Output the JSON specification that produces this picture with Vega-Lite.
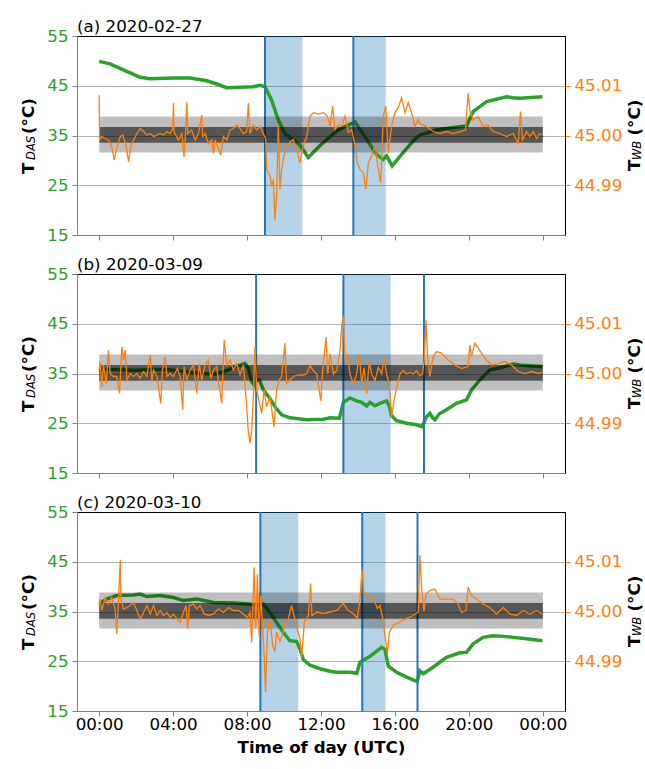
{
  "$schema": "https://vega.github.io/schema/vega-lite/v6.json",
  "padding": {"left": 20, "top": 18, "right": 0, "bottom": 0},
  "spacing": 11,
  "config": {
    "view": {"stroke": "#000000", "strokeWidth": 1},
    "font": "DejaVu Sans",
    "axis": {"labelFont": "DejaVu Sans", "labelFontSize": 16.7, "titleFont": "DejaVu Sans", "titleFontSize": 16.7, "titleFontWeight": "bold", "titleColor": "#000000", "labelFlush": false, "labelOverlap": false, "tickSize": 5, "labelPadding": 4},
    "title": {"font": "DejaVu Sans", "fontSize": 16.7, "fontWeight": "normal", "anchor": "start", "frame": "group", "offset": -8, "color": "#000000"}
  },
  "datasets": {
    "bands": [
      {"from": 0, "to": 24, "lo": 44.9966, "hi": 45.0038, "band": "outer"},
      {"from": 0, "to": 24, "lo": 44.99855, "hi": 45.0017, "band": "inner"}
    ],
    "a_s": [{"start": 8.97, "end": 10.99}, {"start": 13.75, "end": 15.5}],
    "a_e": [{"h": 8.97}, {"h": 13.75}],
    "b_s": [{"start": 13.21, "end": 15.77}],
    "b_e": [{"h": 8.49}, {"h": 13.21}, {"h": 17.57}],
    "c_s": [{"start": 8.72, "end": 10.77}, {"start": 14.23, "end": 15.48}],
    "c_e": [{"h": 8.72}, {"h": 14.23}, {"h": 17.22}],
    "a_g": [
      {"h": 0, "t": 49.9}, {"h": 0.59, "t": 49.4}, {"h": 1.31, "t": 48.2}, {"h": 2.22, "t": 46.7}, {"h": 2.76, "t": 46.4},
      {"h": 4.02, "t": 46.55}, {"h": 4.92, "t": 46.55}, {"h": 5.82, "t": 46.0}, {"h": 6.36, "t": 45.35}, {"h": 6.9, "t": 44.6},
      {"h": 7.62, "t": 44.7}, {"h": 8.34, "t": 44.8}, {"h": 8.7, "t": 45.1}, {"h": 8.97, "t": 44.8}, {"h": 9.33, "t": 42.1},
      {"h": 9.69, "t": 38.1}, {"h": 10.05, "t": 35.4}, {"h": 10.5, "t": 34.1}, {"h": 10.86, "t": 33.1}, {"h": 11.31, "t": 30.6},
      {"h": 11.95, "t": 33.0}, {"h": 12.13, "t": 33.6}, {"h": 12.85, "t": 35.9}, {"h": 13.3, "t": 36.8}, {"h": 13.84, "t": 37.7},
      {"h": 14.47, "t": 34.2}, {"h": 15.01, "t": 31.2}, {"h": 15.37, "t": 30.2}, {"h": 15.55, "t": 30.9}, {"h": 15.85, "t": 28.9},
      {"h": 16.45, "t": 31.6}, {"h": 16.99, "t": 33.9}, {"h": 17.35, "t": 35.1}, {"h": 18.25, "t": 36.1}, {"h": 19.15, "t": 36.6},
      {"h": 19.87, "t": 36.9}, {"h": 20.23, "t": 39.8}, {"h": 20.96, "t": 41.8}, {"h": 22.04, "t": 42.8}, {"h": 22.4, "t": 42.6},
      {"h": 22.76, "t": 42.5}, {"h": 23.98, "t": 42.8}
    ],
    "a_o": [
      {"h": 0, "t": 45.0081}, {"h": 0.02, "t": 44.9991}, {"h": 0.14, "t": 44.9998}, {"h": 0.32, "t": 44.9994}, {"h": 0.5, "t": 44.9991},
      {"h": 0.68, "t": 44.9978}, {"h": 0.81, "t": 44.9951}, {"h": 0.95, "t": 44.9974}, {"h": 1.14, "t": 44.9998}, {"h": 1.28, "t": 45.0001},
      {"h": 1.46, "t": 44.9978}, {"h": 1.59, "t": 44.9947}, {"h": 1.71, "t": 44.9978}, {"h": 1.86, "t": 44.9991}, {"h": 2.04, "t": 45.0004},
      {"h": 2.22, "t": 45.0014}, {"h": 2.4, "t": 45.0008}, {"h": 2.58, "t": 45.0001}, {"h": 2.76, "t": 45.0004}, {"h": 2.94, "t": 44.9998},
      {"h": 3.12, "t": 45.0001}, {"h": 3.3, "t": 45.0004}, {"h": 3.48, "t": 45.0001}, {"h": 3.66, "t": 45.0008}, {"h": 3.84, "t": 45.0004},
      {"h": 3.98, "t": 45.0014}, {"h": 4.02, "t": 45.0065}, {"h": 4.05, "t": 45.0008}, {"h": 4.29, "t": 44.9991}, {"h": 4.47, "t": 45.0004},
      {"h": 4.59, "t": 44.9957}, {"h": 4.67, "t": 45.0004}, {"h": 4.74, "t": 45.0068}, {"h": 4.79, "t": 45.0004}, {"h": 5.01, "t": 45.0011},
      {"h": 5.19, "t": 44.9991}, {"h": 5.37, "t": 45.0004}, {"h": 5.55, "t": 45.0041}, {"h": 5.6, "t": 44.9998}, {"h": 5.73, "t": 45.0004},
      {"h": 5.91, "t": 44.9984}, {"h": 6.09, "t": 44.9991}, {"h": 6.18, "t": 44.9964}, {"h": 6.27, "t": 44.9991}, {"h": 6.45, "t": 44.9974},
      {"h": 6.58, "t": 44.9961}, {"h": 6.72, "t": 44.9998}, {"h": 6.9, "t": 44.9991}, {"h": 7.08, "t": 45.0011}, {"h": 7.26, "t": 45.0014},
      {"h": 7.44, "t": 45.0021}, {"h": 7.62, "t": 45.0014}, {"h": 7.8, "t": 45.0004}, {"h": 7.98, "t": 45.0008}, {"h": 8.07, "t": 45.0065},
      {"h": 8.16, "t": 45.0004}, {"h": 8.34, "t": 45.0021}, {"h": 8.52, "t": 45.0011}, {"h": 8.7, "t": 45.0018}, {"h": 8.88, "t": 45.0004},
      {"h": 9.0, "t": 44.9994}, {"h": 9.06, "t": 44.9932}, {"h": 9.24, "t": 44.9919}, {"h": 9.33, "t": 44.9898}, {"h": 9.42, "t": 44.9912},
      {"h": 9.51, "t": 44.9831}, {"h": 9.6, "t": 44.9878}, {"h": 9.69, "t": 45.0019}, {"h": 9.78, "t": 44.9892}, {"h": 9.87, "t": 44.9932},
      {"h": 9.96, "t": 44.9952}, {"h": 10.14, "t": 44.9979}, {"h": 10.32, "t": 44.9986}, {"h": 10.5, "t": 44.9992}, {"h": 10.68, "t": 44.9972},
      {"h": 10.86, "t": 44.9945}, {"h": 11.04, "t": 44.9979}, {"h": 11.23, "t": 44.9999}, {"h": 11.41, "t": 45.0039}, {"h": 11.59, "t": 45.0046},
      {"h": 11.86, "t": 45.0043}, {"h": 12.13, "t": 45.0046}, {"h": 12.34, "t": 45.0039}, {"h": 12.49, "t": 45.0019}, {"h": 12.63, "t": 45.0059},
      {"h": 12.76, "t": 45.0012}, {"h": 12.94, "t": 45.0022}, {"h": 13.12, "t": 45.0019}, {"h": 13.3, "t": 45.0039}, {"h": 13.48, "t": 45.0006},
      {"h": 13.66, "t": 45.0012}, {"h": 13.84, "t": 44.9979}, {"h": 13.96, "t": 44.9945}, {"h": 14.11, "t": 44.9932}, {"h": 14.29, "t": 44.9925},
      {"h": 14.43, "t": 44.9892}, {"h": 14.56, "t": 44.9945}, {"h": 14.74, "t": 44.9959}, {"h": 14.92, "t": 44.9979}, {"h": 15.1, "t": 44.9932},
      {"h": 15.23, "t": 44.9905}, {"h": 15.37, "t": 45.0039}, {"h": 15.5, "t": 45.0059}, {"h": 15.64, "t": 44.9965}, {"h": 15.82, "t": 45.0019},
      {"h": 16.0, "t": 45.0046}, {"h": 16.18, "t": 45.0056}, {"h": 16.36, "t": 45.0076}, {"h": 16.54, "t": 45.0046}, {"h": 16.72, "t": 45.0066},
      {"h": 16.9, "t": 45.0046}, {"h": 17.08, "t": 45.0019}, {"h": 17.26, "t": 45.0032}, {"h": 17.35, "t": 45.0024}, {"h": 17.71, "t": 45.0018},
      {"h": 18.07, "t": 45.0008}, {"h": 18.43, "t": 45.0004}, {"h": 18.79, "t": 45.0008}, {"h": 19.15, "t": 45.0004}, {"h": 19.51, "t": 45.0008},
      {"h": 19.82, "t": 45.0011}, {"h": 19.96, "t": 45.0085}, {"h": 20.05, "t": 45.0051}, {"h": 20.23, "t": 45.0031}, {"h": 20.5, "t": 45.0038},
      {"h": 20.77, "t": 45.0018}, {"h": 21.04, "t": 45.0021}, {"h": 21.31, "t": 45.0008}, {"h": 21.68, "t": 45.0004}, {"h": 22.04, "t": 44.9998},
      {"h": 22.4, "t": 45.0004}, {"h": 22.67, "t": 44.9984}, {"h": 22.79, "t": 45.0048}, {"h": 22.9, "t": 44.9991}, {"h": 23.12, "t": 45.0008},
      {"h": 23.3, "t": 44.9998}, {"h": 23.48, "t": 45.0008}, {"h": 23.66, "t": 44.9994}, {"h": 23.84, "t": 45.0004}, {"h": 23.98, "t": 45.0001}
    ],
    "b_g": [
      {"h": 0, "t": 35.8}, {"h": 0.95, "t": 35.8}, {"h": 1.86, "t": 35.6}, {"h": 2.76, "t": 35.8}, {"h": 3.66, "t": 35.8},
      {"h": 4.56, "t": 35.4}, {"h": 5.46, "t": 35.0}, {"h": 6.36, "t": 34.9}, {"h": 6.9, "t": 35.6}, {"h": 7.44, "t": 36.5},
      {"h": 7.89, "t": 37.0}, {"h": 8.07, "t": 36.0}, {"h": 8.25, "t": 33.4}, {"h": 8.38, "t": 32.7}, {"h": 8.52, "t": 33.7},
      {"h": 8.67, "t": 33.7}, {"h": 8.88, "t": 31.7}, {"h": 9.24, "t": 30.0}, {"h": 9.51, "t": 28.3}, {"h": 9.87, "t": 26.7},
      {"h": 10.32, "t": 26.1}, {"h": 11.23, "t": 25.7}, {"h": 12.13, "t": 25.8}, {"h": 12.49, "t": 26.1}, {"h": 13.0, "t": 26.0},
      {"h": 13.21, "t": 29.2}, {"h": 13.57, "t": 30.1}, {"h": 13.93, "t": 29.5}, {"h": 14.2, "t": 29.2}, {"h": 14.47, "t": 28.5},
      {"h": 14.65, "t": 29.2}, {"h": 14.92, "t": 28.5}, {"h": 15.19, "t": 29.0}, {"h": 15.55, "t": 29.5}, {"h": 15.69, "t": 28.5},
      {"h": 15.82, "t": 26.5}, {"h": 16.09, "t": 25.5}, {"h": 16.63, "t": 25.0}, {"h": 17.16, "t": 24.7}, {"h": 17.49, "t": 24.3},
      {"h": 17.68, "t": 26.2}, {"h": 17.89, "t": 27.0}, {"h": 18.04, "t": 26.1}, {"h": 18.16, "t": 25.7}, {"h": 18.4, "t": 26.9},
      {"h": 18.79, "t": 27.7}, {"h": 19.33, "t": 29.0}, {"h": 19.87, "t": 29.7}, {"h": 20.14, "t": 31.7}, {"h": 20.59, "t": 33.7},
      {"h": 21.13, "t": 35.7}, {"h": 21.76, "t": 36.2}, {"h": 22.4, "t": 36.9}, {"h": 22.76, "t": 36.7}, {"h": 23.48, "t": 36.5},
      {"h": 23.98, "t": 36.4}
    ],
    "b_o": [
      {"h": 0, "t": 45.0007}, {"h": 0.05, "t": 45.0024}, {"h": 0.14, "t": 44.9974}, {"h": 0.23, "t": 45.0017}, {"h": 0.38, "t": 44.998},
      {"h": 0.5, "t": 45.0047}, {"h": 0.59, "t": 45.0}, {"h": 0.77, "t": 44.9994}, {"h": 0.95, "t": 44.9994}, {"h": 1.1, "t": 44.996},
      {"h": 1.23, "t": 45.0054}, {"h": 1.32, "t": 45.0027}, {"h": 1.41, "t": 45.0047}, {"h": 1.5, "t": 44.9987}, {"h": 1.68, "t": 45.0},
      {"h": 1.86, "t": 44.9994}, {"h": 2.04, "t": 45.0}, {"h": 2.22, "t": 44.999}, {"h": 2.4, "t": 45.0004}, {"h": 2.58, "t": 44.9994},
      {"h": 2.76, "t": 45.0037}, {"h": 2.85, "t": 44.9984}, {"h": 2.94, "t": 45.0007}, {"h": 3.12, "t": 44.9994}, {"h": 3.33, "t": 44.994},
      {"h": 3.42, "t": 45.0007}, {"h": 3.57, "t": 45.0034}, {"h": 3.66, "t": 44.9994}, {"h": 3.84, "t": 45.0}, {"h": 4.02, "t": 44.9994},
      {"h": 4.23, "t": 45.001}, {"h": 4.38, "t": 44.9994}, {"h": 4.52, "t": 44.9927}, {"h": 4.59, "t": 45.0014}, {"h": 4.74, "t": 44.9987},
      {"h": 4.92, "t": 45.0007}, {"h": 5.1, "t": 45.0017}, {"h": 5.28, "t": 44.996}, {"h": 5.41, "t": 45.002}, {"h": 5.55, "t": 44.9987},
      {"h": 5.73, "t": 45.0017}, {"h": 5.91, "t": 45.0027}, {"h": 6.04, "t": 44.999}, {"h": 6.18, "t": 45.0007}, {"h": 6.36, "t": 45.0014},
      {"h": 6.45, "t": 44.9984}, {"h": 6.63, "t": 44.994}, {"h": 6.76, "t": 45.0067}, {"h": 6.9, "t": 45.0017}, {"h": 7.08, "t": 45.0027},
      {"h": 7.26, "t": 45.0007}, {"h": 7.44, "t": 45.002}, {"h": 7.62, "t": 44.9997}, {"h": 7.8, "t": 45.0017}, {"h": 7.94, "t": 44.9953},
      {"h": 8.07, "t": 44.9883}, {"h": 8.16, "t": 44.986}, {"h": 8.25, "t": 44.9886}, {"h": 8.34, "t": 44.9953}, {"h": 8.43, "t": 45.0054},
      {"h": 8.52, "t": 44.9967}, {"h": 8.67, "t": 44.994}, {"h": 8.79, "t": 44.992}, {"h": 8.92, "t": 44.9967}, {"h": 9.06, "t": 44.9933},
      {"h": 9.24, "t": 44.9953}, {"h": 9.46, "t": 44.9893}, {"h": 9.6, "t": 44.9967}, {"h": 9.75, "t": 44.9987}, {"h": 9.87, "t": 44.9994},
      {"h": 10.05, "t": 45.0061}, {"h": 10.14, "t": 44.998}, {"h": 10.32, "t": 44.9987}, {"h": 10.5, "t": 44.9994}, {"h": 10.77, "t": 44.9997},
      {"h": 11.05, "t": 44.9997}, {"h": 11.23, "t": 45.0}, {"h": 11.41, "t": 45.0016}, {"h": 11.59, "t": 45.0005}, {"h": 11.77, "t": 44.9999},
      {"h": 11.99, "t": 44.9945}, {"h": 12.09, "t": 45.0006}, {"h": 12.27, "t": 45.0073}, {"h": 12.36, "t": 44.9999}, {"h": 12.49, "t": 45.0039},
      {"h": 12.67, "t": 44.9999}, {"h": 12.85, "t": 45.0006}, {"h": 13.03, "t": 45.0046}, {"h": 13.12, "t": 45.0096}, {"h": 13.21, "t": 45.0116},
      {"h": 13.3, "t": 45.0026}, {"h": 13.42, "t": 45.0039}, {"h": 13.57, "t": 44.9999}, {"h": 13.75, "t": 44.9979}, {"h": 13.93, "t": 44.9999},
      {"h": 14.07, "t": 45.0039}, {"h": 14.2, "t": 44.9979}, {"h": 14.33, "t": 45.0012}, {"h": 14.47, "t": 44.9959}, {"h": 14.61, "t": 45.0026},
      {"h": 14.74, "t": 44.9999}, {"h": 14.92, "t": 44.9986}, {"h": 15.1, "t": 45.0012}, {"h": 15.28, "t": 44.9999}, {"h": 15.41, "t": 45.0032},
      {"h": 15.55, "t": 44.9999}, {"h": 15.69, "t": 44.9979}, {"h": 15.82, "t": 44.9912}, {"h": 15.95, "t": 44.9945}, {"h": 16.09, "t": 44.9972},
      {"h": 16.27, "t": 44.9999}, {"h": 16.45, "t": 45.0006}, {"h": 16.63, "t": 44.9999}, {"h": 16.81, "t": 45.0002}, {"h": 16.99, "t": 44.9999},
      {"h": 17.16, "t": 45.0006}, {"h": 17.34, "t": 44.9996}, {"h": 17.49, "t": 44.9999}, {"h": 17.58, "t": 45.0026}, {"h": 17.68, "t": 45.0107},
      {"h": 17.77, "t": 45.0032}, {"h": 17.89, "t": 44.9994}, {"h": 18.07, "t": 45.0034}, {"h": 18.25, "t": 45.0044}, {"h": 18.52, "t": 45.0041},
      {"h": 18.88, "t": 45.0027}, {"h": 19.24, "t": 45.0017}, {"h": 19.6, "t": 45.001}, {"h": 19.96, "t": 45.0014}, {"h": 20.05, "t": 45.0057},
      {"h": 20.14, "t": 45.0034}, {"h": 20.32, "t": 45.0061}, {"h": 20.5, "t": 45.0051}, {"h": 20.68, "t": 45.0041}, {"h": 20.95, "t": 45.0027},
      {"h": 21.22, "t": 45.0017}, {"h": 21.58, "t": 45.002}, {"h": 21.94, "t": 45.0024}, {"h": 22.31, "t": 45.0017}, {"h": 22.67, "t": 45.0004},
      {"h": 23.03, "t": 45.0}, {"h": 23.39, "t": 45.0004}, {"h": 23.75, "t": 45.0}, {"h": 23.98, "t": 45.0002}
    ],
    "c_g": [
      {"h": 0, "t": 36.5}, {"h": 0.41, "t": 37.5}, {"h": 0.95, "t": 38.2}, {"h": 1.86, "t": 38.3}, {"h": 2.22, "t": 38.5},
      {"h": 2.58, "t": 38.0}, {"h": 3.3, "t": 38.2}, {"h": 4.02, "t": 37.8}, {"h": 4.56, "t": 37.2}, {"h": 5.28, "t": 37.5},
      {"h": 6.18, "t": 36.8}, {"h": 7.26, "t": 36.7}, {"h": 8.07, "t": 36.5}, {"h": 8.52, "t": 36.3}, {"h": 8.88, "t": 36.5},
      {"h": 9.24, "t": 34.8}, {"h": 9.6, "t": 32.8}, {"h": 9.96, "t": 30.8}, {"h": 10.32, "t": 29.1}, {"h": 10.68, "t": 29.0},
      {"h": 10.86, "t": 27.5}, {"h": 11.05, "t": 25.3}, {"h": 11.41, "t": 24.2}, {"h": 11.95, "t": 23.5}, {"h": 12.49, "t": 23.0},
      {"h": 12.85, "t": 22.8}, {"h": 13.57, "t": 22.8}, {"h": 13.94, "t": 22.6}, {"h": 14.11, "t": 24.8}, {"h": 14.65, "t": 26.0},
      {"h": 15.28, "t": 27.8}, {"h": 15.46, "t": 27.4}, {"h": 15.64, "t": 24.0}, {"h": 16.09, "t": 22.8}, {"h": 16.63, "t": 21.8},
      {"h": 17.2, "t": 20.9}, {"h": 17.35, "t": 23.1}, {"h": 17.53, "t": 22.5}, {"h": 17.98, "t": 23.6}, {"h": 18.43, "t": 24.8},
      {"h": 18.79, "t": 25.8}, {"h": 19.51, "t": 26.7}, {"h": 19.87, "t": 26.8}, {"h": 20.23, "t": 28.5}, {"h": 20.77, "t": 29.8},
      {"h": 21.31, "t": 30.1}, {"h": 21.86, "t": 30.0}, {"h": 22.4, "t": 29.8}, {"h": 23.12, "t": 29.5}, {"h": 23.98, "t": 29.1}
    ],
    "c_o": [
      {"h": 0, "t": 45.0012}, {"h": 0.05, "t": 45.0025}, {"h": 0.14, "t": 45.0002}, {"h": 0.32, "t": 45.0028}, {"h": 0.5, "t": 45.0015},
      {"h": 0.68, "t": 45.0028}, {"h": 0.86, "t": 45.0005}, {"h": 0.95, "t": 44.9955}, {"h": 1.05, "t": 45.0025}, {"h": 1.14, "t": 45.0104},
      {"h": 1.17, "t": 45.0025}, {"h": 1.32, "t": 45.0005}, {"h": 1.5, "t": 45.0008}, {"h": 1.68, "t": 45.0012}, {"h": 1.86, "t": 45.0018},
      {"h": 2.04, "t": 45.0002}, {"h": 2.22, "t": 44.9985}, {"h": 2.4, "t": 44.9998}, {"h": 2.58, "t": 45.0012}, {"h": 2.76, "t": 44.9995},
      {"h": 2.94, "t": 45.0012}, {"h": 3.12, "t": 44.9992}, {"h": 3.3, "t": 45.0002}, {"h": 3.48, "t": 44.9992}, {"h": 3.66, "t": 44.9998},
      {"h": 3.84, "t": 44.9988}, {"h": 4.02, "t": 44.9995}, {"h": 4.2, "t": 44.9985}, {"h": 4.38, "t": 44.9978}, {"h": 4.56, "t": 44.9998},
      {"h": 4.7, "t": 45.0012}, {"h": 4.79, "t": 44.9965}, {"h": 4.88, "t": 45.0012}, {"h": 5.1, "t": 45.0015}, {"h": 5.28, "t": 45.0005},
      {"h": 5.46, "t": 45.0012}, {"h": 5.68, "t": 44.9995}, {"h": 5.91, "t": 44.9992}, {"h": 6.18, "t": 44.9995}, {"h": 6.45, "t": 45.0005},
      {"h": 6.72, "t": 44.9998}, {"h": 6.99, "t": 45.0008}, {"h": 7.26, "t": 45.0002}, {"h": 7.53, "t": 45.0002}, {"h": 7.8, "t": 44.9995},
      {"h": 8.02, "t": 44.9988}, {"h": 8.16, "t": 44.9998}, {"h": 8.25, "t": 44.9938}, {"h": 8.38, "t": 45.0089}, {"h": 8.47, "t": 44.9965},
      {"h": 8.56, "t": 45.0075}, {"h": 8.65, "t": 44.9952}, {"h": 8.74, "t": 45.0032}, {"h": 8.83, "t": 44.9978}, {"h": 8.92, "t": 44.9915},
      {"h": 9.0, "t": 44.9838}, {"h": 9.1, "t": 44.9958}, {"h": 9.24, "t": 44.9985}, {"h": 9.39, "t": 44.9931}, {"h": 9.51, "t": 44.9919},
      {"h": 9.6, "t": 44.9959}, {"h": 9.78, "t": 44.994}, {"h": 9.96, "t": 44.9959}, {"h": 10.07, "t": 44.9982}, {"h": 10.23, "t": 44.9985},
      {"h": 10.41, "t": 45.0012}, {"h": 10.54, "t": 44.9992}, {"h": 10.68, "t": 44.9972}, {"h": 10.86, "t": 44.9945}, {"h": 10.95, "t": 44.9908},
      {"h": 11.1, "t": 44.9979}, {"h": 11.32, "t": 44.9992}, {"h": 11.44, "t": 45.0056}, {"h": 11.51, "t": 44.9992}, {"h": 11.77, "t": 44.9999},
      {"h": 12.13, "t": 44.9996}, {"h": 12.49, "t": 44.9999}, {"h": 12.85, "t": 45.0002}, {"h": 13.21, "t": 45.0016}, {"h": 13.48, "t": 45.0002},
      {"h": 13.75, "t": 44.9996}, {"h": 13.96, "t": 44.9986}, {"h": 14.11, "t": 45.0026}, {"h": 14.22, "t": 45.0084}, {"h": 14.32, "t": 45.0039},
      {"h": 14.56, "t": 45.0029}, {"h": 14.83, "t": 45.0026}, {"h": 15.05, "t": 45.0006}, {"h": 15.19, "t": 45.0012}, {"h": 15.34, "t": 44.9986},
      {"h": 15.46, "t": 44.9952}, {"h": 15.59, "t": 44.9915}, {"h": 15.7, "t": 44.9959}, {"h": 15.91, "t": 44.9972}, {"h": 16.27, "t": 44.9979},
      {"h": 16.63, "t": 44.9986}, {"h": 16.99, "t": 44.9992}, {"h": 17.26, "t": 44.9999}, {"h": 17.35, "t": 45.0113}, {"h": 17.44, "t": 45.0049},
      {"h": 17.57, "t": 45.0}, {"h": 17.68, "t": 45.0035}, {"h": 17.89, "t": 45.0042}, {"h": 18.16, "t": 45.0045}, {"h": 18.43, "t": 45.0025},
      {"h": 18.79, "t": 45.0025}, {"h": 19.15, "t": 45.0025}, {"h": 19.42, "t": 45.0015}, {"h": 19.6, "t": 44.9998}, {"h": 19.84, "t": 45.0002},
      {"h": 19.96, "t": 45.0049}, {"h": 20.14, "t": 45.0032}, {"h": 20.41, "t": 45.0025}, {"h": 20.77, "t": 45.0015}, {"h": 21.13, "t": 45.0008},
      {"h": 21.49, "t": 44.9995}, {"h": 21.86, "t": 45.0008}, {"h": 22.22, "t": 44.9995}, {"h": 22.58, "t": 44.9992}, {"h": 22.94, "t": 45.0002},
      {"h": 23.3, "t": 44.9995}, {"h": 23.66, "t": 45.0002}, {"h": 23.98, "t": 44.9995}
    ]
  },
  "vconcat": [
    {
      "title": {"text": "(a) 2020-02-27"},
      "width": 488, "height": 199,
      "resolve": {"scale": {"y": "independent"}},
      "layer": [
        {
          "layer": [
            {"data": {"name": "a_s"}, "mark": {"type": "rect", "color": "#1f77b4", "opacity": 0.33},
             "encoding": {"x": {"field": "start", "type": "quantitative", "scale": {"domain": [-1.2, 25.2], "nice": false, "zero": false},
               "axis": {"values": [0, 4, 8, 12, 16, 20, 24], "labels": false, "title": null, "grid": false, "tickColor": "#808080", "domainColor": "#808080"}},
               "x2": {"field": "end"}}},
            {"data": {"name": "a_g"}, "mark": {"type": "line", "color": "#2ca02c", "strokeWidth": 3.5},
             "encoding": {"x": {"field": "h", "type": "quantitative"},
               "y": {"field": "t", "type": "quantitative", "scale": {"domain": [15, 55], "nice": false, "zero": false},
                 "axis": {"orient": "left", "values": [15, 25, 35, 45, 55], "title": null, "grid": false, "labelColor": "#2ca02c", "tickColor": "#808080", "domainColor": "#808080"}}}},
            {"data": {"name": "a_e"}, "mark": {"type": "rule", "color": "#1f77b4", "strokeWidth": 2}, "encoding": {"x": {"field": "h", "type": "quantitative"}}},
            {"data": {"values": [{}]}, "mark": {"type": "text", "text": "T", "angle": 270, "fontSize": 16.7, "fontWeight": "bold", "align": "center", "baseline": "middle", "color": "#000000"},
             "encoding": {"x": {"datum": -3.81}, "y": {"datum": 28.4}}},
            {"data": {"values": [{}]}, "mark": {"type": "text", "text": "DAS", "angle": 270, "fontSize": 11.5, "fontStyle": "italic", "align": "center", "baseline": "middle", "color": "#000000"},
             "encoding": {"x": {"datum": -3.62}, "y": {"datum": 32.5}}},
            {"data": {"values": [{}]}, "mark": {"type": "text", "text": "(°C)", "angle": 270, "fontSize": 16.7, "fontWeight": "bold", "align": "center", "baseline": "middle", "color": "#000000"},
             "encoding": {"x": {"datum": -3.81}, "y": {"datum": 38.9}}},
            {"data": {"values": [{}]}, "mark": {"type": "text", "text": "T", "angle": 270, "fontSize": 16.7, "fontWeight": "bold", "align": "center", "baseline": "middle", "color": "#000000"},
             "encoding": {"x": {"datum": 28.97}, "y": {"datum": 29.0}}},
            {"data": {"values": [{}]}, "mark": {"type": "text", "text": "WB", "angle": 270, "fontSize": 11.5, "fontStyle": "italic", "align": "center", "baseline": "middle", "color": "#000000"},
             "encoding": {"x": {"datum": 29.17}, "y": {"datum": 32.0}}},
            {"data": {"values": [{}]}, "mark": {"type": "text", "text": "(°C)", "angle": 270, "fontSize": 16.7, "fontWeight": "bold", "align": "center", "baseline": "middle", "color": "#000000"},
             "encoding": {"x": {"datum": 28.97}, "y": {"datum": 38.6}}}
          ]
        },
        {
          "layer": [
            {"data": {"name": "bands"}, "mark": {"type": "rect", "color": "#000000"},
             "encoding": {"x": {"field": "from", "type": "quantitative"}, "x2": {"field": "to"},
               "y": {"field": "lo", "type": "quantitative", "scale": {"domain": [44.98, 45.02], "nice": false, "zero": false},
                 "axis": {"orient": "right", "values": [44.99, 45.0, 45.01], "format": ".2f", "title": null, "grid": true, "gridColor": "#b0b0b0", "gridWidth": 1, "labelColor": "#ff7f0e", "tickColor": "#ff7f0e", "domainColor": "#000000"}},
               "y2": {"field": "hi"},
               "opacity": {"field": "band", "type": "nominal", "scale": {"domain": ["outer", "inner"], "range": [0.25, 0.55]}, "legend": null}}},
            {"data": {"name": "a_o"}, "mark": {"type": "line", "color": "#ff7f0e", "strokeWidth": 1.3},
             "encoding": {"x": {"field": "h", "type": "quantitative"}, "y": {"field": "t", "type": "quantitative"}}}
          ]
        }
      ]
    },
    {
      "title": {"text": "(b) 2020-03-09"},
      "width": 488, "height": 199,
      "resolve": {"scale": {"y": "independent"}},
      "layer": [
        {
          "layer": [
            {"data": {"name": "b_s"}, "mark": {"type": "rect", "color": "#1f77b4", "opacity": 0.33},
             "encoding": {"x": {"field": "start", "type": "quantitative", "scale": {"domain": [-1.2, 25.2], "nice": false, "zero": false},
               "axis": {"values": [0, 4, 8, 12, 16, 20, 24], "labels": false, "title": null, "grid": false, "tickColor": "#808080", "domainColor": "#808080"}},
               "x2": {"field": "end"}}},
            {"data": {"name": "b_g"}, "mark": {"type": "line", "color": "#2ca02c", "strokeWidth": 3.5},
             "encoding": {"x": {"field": "h", "type": "quantitative"},
               "y": {"field": "t", "type": "quantitative", "scale": {"domain": [15, 55], "nice": false, "zero": false},
                 "axis": {"orient": "left", "values": [15, 25, 35, 45, 55], "title": null, "grid": false, "labelColor": "#2ca02c", "tickColor": "#808080", "domainColor": "#808080"}}}},
            {"data": {"name": "b_e"}, "mark": {"type": "rule", "color": "#1f77b4", "strokeWidth": 2}, "encoding": {"x": {"field": "h", "type": "quantitative"}}},
            {"data": {"values": [{}]}, "mark": {"type": "text", "text": "T", "angle": 270, "fontSize": 16.7, "fontWeight": "bold", "align": "center", "baseline": "middle", "color": "#000000"},
             "encoding": {"x": {"datum": -3.81}, "y": {"datum": 28.4}}},
            {"data": {"values": [{}]}, "mark": {"type": "text", "text": "DAS", "angle": 270, "fontSize": 11.5, "fontStyle": "italic", "align": "center", "baseline": "middle", "color": "#000000"},
             "encoding": {"x": {"datum": -3.62}, "y": {"datum": 32.5}}},
            {"data": {"values": [{}]}, "mark": {"type": "text", "text": "(°C)", "angle": 270, "fontSize": 16.7, "fontWeight": "bold", "align": "center", "baseline": "middle", "color": "#000000"},
             "encoding": {"x": {"datum": -3.81}, "y": {"datum": 38.9}}},
            {"data": {"values": [{}]}, "mark": {"type": "text", "text": "T", "angle": 270, "fontSize": 16.7, "fontWeight": "bold", "align": "center", "baseline": "middle", "color": "#000000"},
             "encoding": {"x": {"datum": 28.97}, "y": {"datum": 29.0}}},
            {"data": {"values": [{}]}, "mark": {"type": "text", "text": "WB", "angle": 270, "fontSize": 11.5, "fontStyle": "italic", "align": "center", "baseline": "middle", "color": "#000000"},
             "encoding": {"x": {"datum": 29.17}, "y": {"datum": 32.0}}},
            {"data": {"values": [{}]}, "mark": {"type": "text", "text": "(°C)", "angle": 270, "fontSize": 16.7, "fontWeight": "bold", "align": "center", "baseline": "middle", "color": "#000000"},
             "encoding": {"x": {"datum": 28.97}, "y": {"datum": 38.6}}}
          ]
        },
        {
          "layer": [
            {"data": {"name": "bands"}, "mark": {"type": "rect", "color": "#000000"},
             "encoding": {"x": {"field": "from", "type": "quantitative"}, "x2": {"field": "to"},
               "y": {"field": "lo", "type": "quantitative", "scale": {"domain": [44.98, 45.02], "nice": false, "zero": false},
                 "axis": {"orient": "right", "values": [44.99, 45.0, 45.01], "format": ".2f", "title": null, "grid": true, "gridColor": "#b0b0b0", "gridWidth": 1, "labelColor": "#ff7f0e", "tickColor": "#ff7f0e", "domainColor": "#000000"}},
               "y2": {"field": "hi"},
               "opacity": {"field": "band", "type": "nominal", "scale": {"domain": ["outer", "inner"], "range": [0.25, 0.55]}, "legend": null}}},
            {"data": {"name": "b_o"}, "mark": {"type": "line", "color": "#ff7f0e", "strokeWidth": 1.3},
             "encoding": {"x": {"field": "h", "type": "quantitative"}, "y": {"field": "t", "type": "quantitative"}}}
          ]
        }
      ]
    },
    {
      "title": {"text": "(c) 2020-03-10"},
      "width": 488, "height": 199,
      "resolve": {"scale": {"y": "independent"}},
      "layer": [
        {
          "layer": [
            {"data": {"name": "c_s"}, "mark": {"type": "rect", "color": "#1f77b4", "opacity": 0.33},
             "encoding": {"x": {"field": "start", "type": "quantitative", "scale": {"domain": [-1.2, 25.2], "nice": false, "zero": false},
               "axis": {"values": [0, 4, 8, 12, 16, 20, 24], "labels": true, "labelExpr": "(datum.value % 24 < 10 ? '0' : '') + (datum.value % 24) + ':00'", "labelColor": "#000000", "labelPadding": 0, "title": "Time of day (UTC)", "titlePadding": 7, "grid": false, "tickColor": "#808080", "domainColor": "#808080"}},
               "x2": {"field": "end"}}},
            {"data": {"name": "c_g"}, "mark": {"type": "line", "color": "#2ca02c", "strokeWidth": 3.5},
             "encoding": {"x": {"field": "h", "type": "quantitative"},
               "y": {"field": "t", "type": "quantitative", "scale": {"domain": [15, 55], "nice": false, "zero": false},
                 "axis": {"orient": "left", "values": [15, 25, 35, 45, 55], "title": null, "grid": false, "labelColor": "#2ca02c", "tickColor": "#808080", "domainColor": "#808080"}}}},
            {"data": {"name": "c_e"}, "mark": {"type": "rule", "color": "#1f77b4", "strokeWidth": 2}, "encoding": {"x": {"field": "h", "type": "quantitative"}}},
            {"data": {"values": [{}]}, "mark": {"type": "text", "text": "T", "angle": 270, "fontSize": 16.7, "fontWeight": "bold", "align": "center", "baseline": "middle", "color": "#000000"},
             "encoding": {"x": {"datum": -3.81}, "y": {"datum": 28.4}}},
            {"data": {"values": [{}]}, "mark": {"type": "text", "text": "DAS", "angle": 270, "fontSize": 11.5, "fontStyle": "italic", "align": "center", "baseline": "middle", "color": "#000000"},
             "encoding": {"x": {"datum": -3.62}, "y": {"datum": 32.5}}},
            {"data": {"values": [{}]}, "mark": {"type": "text", "text": "(°C)", "angle": 270, "fontSize": 16.7, "fontWeight": "bold", "align": "center", "baseline": "middle", "color": "#000000"},
             "encoding": {"x": {"datum": -3.81}, "y": {"datum": 38.9}}},
            {"data": {"values": [{}]}, "mark": {"type": "text", "text": "T", "angle": 270, "fontSize": 16.7, "fontWeight": "bold", "align": "center", "baseline": "middle", "color": "#000000"},
             "encoding": {"x": {"datum": 28.97}, "y": {"datum": 29.0}}},
            {"data": {"values": [{}]}, "mark": {"type": "text", "text": "WB", "angle": 270, "fontSize": 11.5, "fontStyle": "italic", "align": "center", "baseline": "middle", "color": "#000000"},
             "encoding": {"x": {"datum": 29.17}, "y": {"datum": 32.0}}},
            {"data": {"values": [{}]}, "mark": {"type": "text", "text": "(°C)", "angle": 270, "fontSize": 16.7, "fontWeight": "bold", "align": "center", "baseline": "middle", "color": "#000000"},
             "encoding": {"x": {"datum": 28.97}, "y": {"datum": 38.6}}}
          ]
        },
        {
          "layer": [
            {"data": {"name": "bands"}, "mark": {"type": "rect", "color": "#000000"},
             "encoding": {"x": {"field": "from", "type": "quantitative"}, "x2": {"field": "to"},
               "y": {"field": "lo", "type": "quantitative", "scale": {"domain": [44.98, 45.02], "nice": false, "zero": false},
                 "axis": {"orient": "right", "values": [44.99, 45.0, 45.01], "format": ".2f", "title": null, "grid": true, "gridColor": "#b0b0b0", "gridWidth": 1, "labelColor": "#ff7f0e", "tickColor": "#ff7f0e", "domainColor": "#000000"}},
               "y2": {"field": "hi"},
               "opacity": {"field": "band", "type": "nominal", "scale": {"domain": ["outer", "inner"], "range": [0.25, 0.55]}, "legend": null}}},
            {"data": {"name": "c_o"}, "mark": {"type": "line", "color": "#ff7f0e", "strokeWidth": 1.3},
             "encoding": {"x": {"field": "h", "type": "quantitative"}, "y": {"field": "t", "type": "quantitative"}}}
          ]
        }
      ]
    }
  ]
}
